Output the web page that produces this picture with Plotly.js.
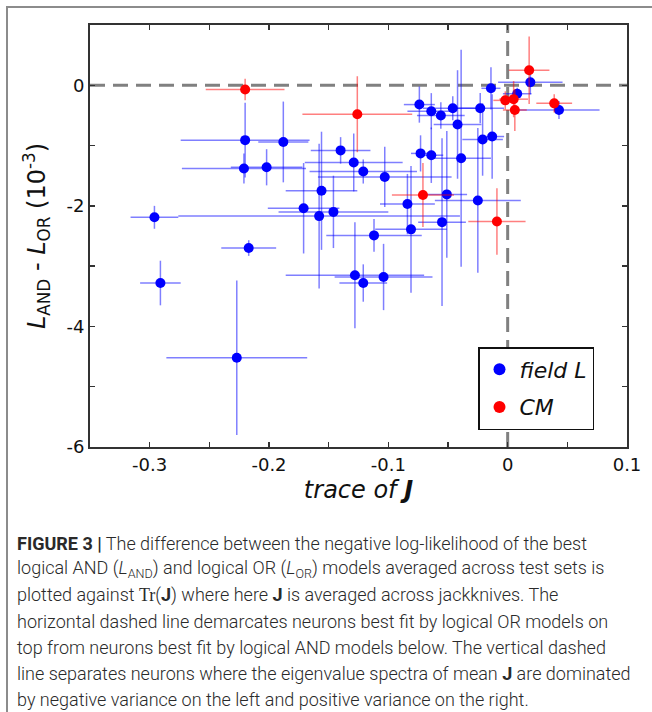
<!DOCTYPE html>
<html><head><meta charset="utf-8">
<script src="https://cdn.plot.ly/plotly-3.0.1.min.js"></script>
<style>
html,body{margin:0;padding:0;background:#fff;}
#chart{position:absolute;left:0;top:0;width:652px;height:712px;}
#frame{position:absolute;left:6px;top:6px;width:700px;height:760px;border-left:2px solid #8c8c8c;border-top:2px solid #8c8c8c;pointer-events:none;}
</style></head><body>
<div id="chart"></div>
<div id="frame"></div>
<script>
// ---- data ----
const fieldX    = [-0.296,-0.291,-0.217,-0.227,-0.220,-0.221,-0.202,-0.188,-0.140,-0.129,-0.121,-0.103,-0.156,-0.171,-0.158,-0.146,-0.112,-0.128,-0.121,-0.104,-0.084,-0.081,-0.051,-0.055,-0.025,-0.074,-0.064,-0.056,-0.046,-0.042,-0.039,-0.073,-0.064,-0.023,-0.014,-0.021,-0.013,0.008,0.019,0.043];
const fieldY    = [-2.19,-3.28,-2.70,-4.52,-0.91,-1.38,-1.36,-0.94,-1.08,-1.28,-1.43,-1.52,-1.75,-2.04,-2.17,-2.10,-2.49,-3.15,-3.28,-3.18,-1.97,-2.39,-1.81,-2.27,-1.91,-0.32,-0.43,-0.50,-0.38,-0.65,-1.21,-1.13,-1.16,-0.38,-0.05,-0.90,-0.85,-0.14,0.05,-0.41];
const fieldXErr = [0.020,0.017,0.023,0.059,0.054,0.052,0.030,0.021,0.025,0.041,0.045,0.056,0.030,0.030,0.118,0.046,0.040,0.058,0.020,0.041,0.023,0.030,0.017,0.020,0.036,0.013,0.020,0.020,0.025,0.020,0.025,0.008,0.010,0.020,0.008,0.017,0.010,0.012,0.027,0.034];
const fieldYErr = [0.19,0.37,0.13,1.28,0.62,0.25,0.30,0.67,0.22,0.48,0.20,0.50,0.98,0.75,1.20,0.60,0.27,0.88,0.31,0.55,0.50,1.05,1.05,1.39,1.20,0.30,0.30,0.22,0.20,0.90,1.80,0.30,0.46,0.25,0.35,0.60,0.70,0.10,0.20,0.15];

const cmX    = [-0.220,-0.126,-0.071,-0.009,0.018,-0.002,0.005,0.006,0.039];
const cmY    = [-0.07,-0.48,-1.82,-2.26,0.25,-0.25,-0.23,-0.41,-0.30];
const cmXErr = [0.033,0.046,0.026,0.024,0.017,0.010,0.012,0.010,0.015];
const cmYErr = [0.18,0.63,0.53,0.55,0.56,0.15,0.30,0.35,0.15];

const seriesNames = ['<i>field L</i>', '<i>CM</i>'];

const xTickVals = [-0.3,-0.2,-0.1,0,0.1];
const xTickText = ['-0.3','-0.2','-0.1','0','0.1'];
const xMinorVals = [-0.25,-0.15,-0.05,0.05];
const yTickVals = [-6,-4,-2,0];
const yTickText = ['-6','-4','-2','0'];
const yMinorVals = [-5,-3,-1,1];

const captionLines = [
  "<b>FIGURE 3 |</b> The difference between the negative log-likelihood of the best",
  "logical AND (<i>L</i><sub>AND</sub>) and logical OR (<i>L</i><sub>OR</sub>) models averaged across test sets is",
  "plotted against <span style=\"font-family:'Liberation Serif'\">Tr</span>(<b>J</b>) where here <b>J</b> is averaged across jackknives. The",
  "horizontal dashed line demarcates neurons best fit by logical OR models on",
  "top from neurons best fit by logical AND models below. The vertical dashed",
  "line separates neurons where the eigenvalue spectra of mean <b>J</b> are dominated",
  "by negative variance on the left and positive variance on the right."
];

// ---- layout geometry ----
const W = 652, H = 712;
const M = {l: 90, r: 25, t: 25, b: 265};
const plotW = W - M.l - M.r, plotH = H - M.t - M.b;
const pxToPaperX = px => (px - M.l) / plotW;
const pxToPaperY = py => (H - M.b - py) / plotH;

function errTrace(x, y, xe, ye, color, barColor, name) {
  return {
    type: 'scatter', mode: 'markers', x: x, y: y, name: name,
    marker: {color: color, size: 10, line: {width: 0}},
    error_x: {type: 'data', array: xe, visible: true, color: barColor, thickness: 1.5, width: 0},
    error_y: {type: 'data', array: ye, visible: true, color: barColor, thickness: 1.5, width: 0},
    legendgroup: name
  };
}

const traces = [
  errTrace(fieldX, fieldY, fieldXErr, fieldYErr, '#0000ff', 'rgba(0,0,255,0.5)', seriesNames[0]),
  errTrace(cmX, cmY, cmXErr, cmYErr, '#ff0000', 'rgba(255,0,0,0.5)', seriesNames[1])
];

const axisFont = {family: 'DejaVu Sans', size: 18, color: '#111'};
const annotations = captionLines.map((t, i) => ({
  xref: 'paper', yref: 'paper',
  x: pxToPaperX(15), y: pxToPaperY(543 + i * 26),
  xanchor: 'left', yanchor: 'middle', align: 'left', showarrow: false,
  text: t,
  font: {family: 'Roboto', size: 18, color: '#2a2a2a', weight: 300}
}));

const minorStyle = {ticks: 'inside', ticklen: 5, tickwidth: 1.5, tickcolor: '#333'};

const layout = {
  width: W, height: H,
  margin: M,
  paper_bgcolor: '#fff', plot_bgcolor: '#fff',
  showlegend: true,
  legend: {
    x: pxToPaperX(478), y: pxToPaperY(347), xanchor: 'left', yanchor: 'top',
    bgcolor: '#fff', bordercolor: '#111', borderwidth: 1.5,
    font: {family: 'DejaVu Sans', size: 22, color: '#111'},
    tracegroupgap: 6, itemsizing: 'constant', entrywidth: 70
  },
  xaxis: {
    range: [-0.35, 0.1], showgrid: false, zeroline: false,
    showline: true, linewidth: 2, linecolor: '#333', mirror: 'ticks',
    ticks: 'inside', ticklen: 5, tickwidth: 1.5, tickcolor: '#333',
    tickmode: 'array', tickvals: xTickVals, ticktext: xTickText,
    minor: Object.assign({tickmode: 'array', tickvals: xMinorVals}, minorStyle),
    tickfont: axisFont,
    title: {text: '<i>trace of </i><b><i>J</i></b>', font: {family: 'DejaVu Sans', size: 24, color: '#111'}, standoff: 8}
  },
  yaxis: {
    range: [-6, 1], showgrid: false, zeroline: false,
    showline: true, linewidth: 2, linecolor: '#333', mirror: 'ticks',
    ticks: 'inside', ticklen: 5, tickwidth: 1.5, tickcolor: '#333',
    tickmode: 'array', tickvals: yTickVals, ticktext: yTickText,
    minor: Object.assign({tickmode: 'array', tickvals: yMinorVals}, minorStyle),
    tickfont: axisFont,
    title: {text: '<i>L</i><sub>AND</sub> - <i>L</i><sub>OR</sub> (10<sup>-3</sup>)', font: {family: 'DejaVu Sans', size: 24, color: '#111'}, standoff: 14}
  },
  shapes: [
    {type: 'line', layer: 'below', xref: 'paper', yref: 'y', x0: 0, x1: 1, y0: 0, y1: 0,
     line: {color: '#808080', width: 3, dash: '15px,8px'}},
    {type: 'line', layer: 'below', xref: 'x', yref: 'paper', x0: 0, x1: 0, y0: 0, y1: 1,
     line: {color: '#808080', width: 3, dash: '15px,8px'}}
  ],
  annotations: annotations
};

Plotly.newPlot('chart', traces, layout, {displayModeBar: false, staticPlot: true});
</script>
</body></html>
